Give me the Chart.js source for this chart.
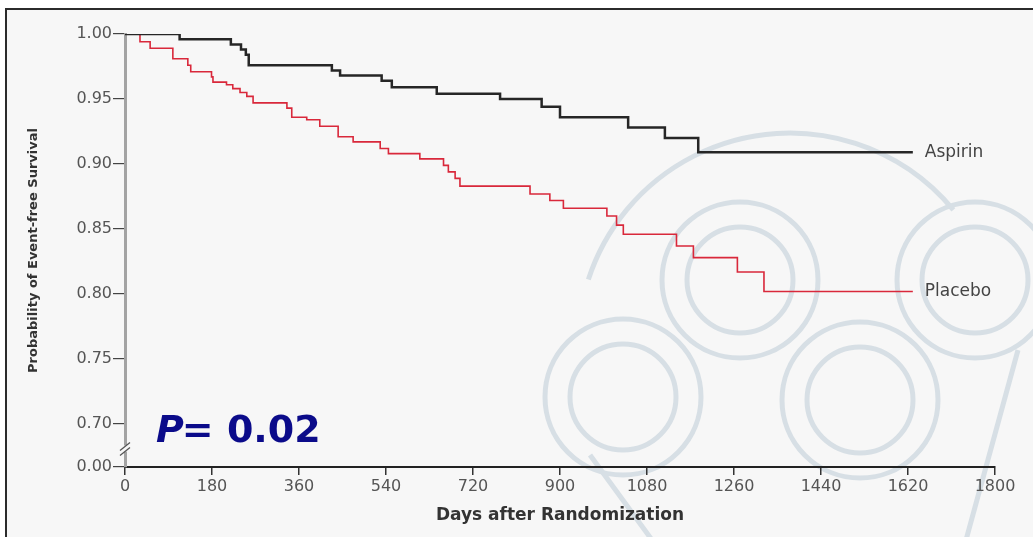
<!DOCTYPE html>
<html>
<head>
<meta charset="utf-8">
<script src="https://cdn.jsdelivr.net/npm/chart.js@4.4.1/dist/chart.umd.min.js"></script>
<style>
  html, body { margin: 0; padding: 0; background: #fff; }
  #wrap { width: 1033px; height: 537px; }
</style>
</head>
<body>
<div id="wrap"><canvas id="kmChart"></canvas></div>
<script>
/* Data */
const seriesLabels = ['Aspirin', 'Placebo'];

const aspirinDays = [0, 113, 219, 240, 250, 256, 428, 445, 531, 552, 645, 776, 862, 900, 1041, 1117, 1186, 1630];
const aspirinSurv = [1.000, 0.996, 0.992, 0.988, 0.984, 0.976, 0.972, 0.968, 0.964, 0.959, 0.954, 0.950, 0.944, 0.936, 0.928, 0.920, 0.909, 0.909];

const placeboDays = [0, 31, 52, 99, 130, 136, 179, 182, 210, 223, 238, 252, 265, 335, 345, 376, 403, 441, 472, 528,
                     545, 610, 659, 669, 683, 693, 838, 879, 907, 997, 1017, 1031, 1141, 1176, 1267, 1322, 1630];
const placeboSurv = [1.000, 0.994, 0.989, 0.981, 0.976, 0.971, 0.967, 0.963, 0.961, 0.958, 0.955, 0.952, 0.947, 0.943, 0.936, 0.934, 0.929, 0.921, 0.917, 0.912,
                     0.908, 0.904, 0.899, 0.894, 0.889, 0.883, 0.877, 0.872, 0.866, 0.860, 0.853, 0.846, 0.837, 0.828, 0.817, 0.802, 0.802];

const xTicks = [0, 180, 360, 540, 720, 900, 1080, 1260, 1440, 1620, 1800];
const yTicks = [0.70, 0.75, 0.80, 0.85, 0.90, 0.95, 1.00];
const yBreak = 0.667;   // bottom of the broken axis, shown as 0.00
const pValueLabel = ['P', '= 0.02'];

const tickFont = { family: '"DejaVu Sans", sans-serif', size: 16 };

function toPoints(days, surv) {
    return days.map((d, i) => ({ x: d, y: surv[i] }));
}

/* Plugins */

// grey panel with a dark frame on top and left
const panel = {
    id: 'panel',
    beforeDraw(chart) {
        const ctx = chart.ctx;
        ctx.save();
        ctx.fillStyle = '#ffffff';
        ctx.fillRect(0, 0, chart.width, chart.height);
        ctx.fillStyle = '#f7f7f7';
        ctx.fillRect(6, 9, chart.width - 6, chart.height - 9);
        ctx.strokeStyle = '#2b2b2b';
        ctx.lineWidth = 2;
        ctx.beginPath();
        ctx.moveTo(6, chart.height);
        ctx.lineTo(6, 9);
        ctx.lineTo(chart.width, 9);
        ctx.stroke();
        ctx.restore();
    }
};

// faint logo in the background, under the axes
const watermark = {
    id: 'watermark',
    beforeDraw(chart) {
        const ctx = chart.ctx;
        ctx.save();
        ctx.strokeStyle = '#d7dfe5';
        ctx.lineWidth = 5;
        ctx.beginPath();
        ctx.arc(790, 345, 212, Math.PI * 1.1, Math.PI * 1.78);
        ctx.stroke();
        const rings = [[740, 280], [975, 280], [623, 397], [860, 400]];
        rings.forEach(([cx, cy]) => {
            ctx.beginPath();
            ctx.arc(cx, cy, 78, 0, Math.PI * 2);
            ctx.stroke();
            ctx.beginPath();
            ctx.arc(cx, cy, 53, 0, Math.PI * 2);
            ctx.stroke();
        });
        ctx.beginPath();
        ctx.moveTo(590, 455);
        ctx.lineTo(652, 540);
        ctx.moveTo(1018, 350);
        ctx.lineTo(966, 540);
        ctx.stroke();
        ctx.restore();
    }
};

// series names at the end of each curve, and the P value
const labels = {
    id: 'labels',
    afterDatasetsDraw(chart) {
        const ctx = chart.ctx;
        ctx.save();
        ctx.font = '17px "DejaVu Sans", sans-serif';
        ctx.fillStyle = '#444';
        ctx.textBaseline = 'middle';
        chart.data.datasets.forEach((ds, i) => {
            const pts = chart.getDatasetMeta(i).data;
            const last = pts[pts.length - 1];
            ctx.fillText(ds.label, last.x + 12, last.y);
        });

        const x = chart.scales.x.getPixelForValue(0) + 31;
        const y = chart.scales.y.getPixelForValue(0.70) + 18;
        ctx.fillStyle = '#0b0b8a';
        ctx.textBaseline = 'alphabetic';
        ctx.font = 'italic bold 38px "DejaVu Sans", sans-serif';
        ctx.fillText(pValueLabel[0], x, y);
        const w = ctx.measureText(pValueLabel[0]).width;
        ctx.font = 'bold 38px "DejaVu Sans", sans-serif';
        ctx.fillText(pValueLabel[1], x + w - 2, y);
        ctx.restore();
    }
};

// "//" break marks on the y axis
const axisBreak = {
    id: 'axisBreak',
    afterDraw(chart) {
        const ctx = chart.ctx;
        const x = chart.scales.x.getPixelForValue(0);
        const y = (chart.scales.y.getPixelForValue(0.70) + chart.scales.y.getPixelForValue(yBreak)) / 2 + 3;
        ctx.save();
        ctx.fillStyle = '#f7f7f7';
        ctx.fillRect(x - 3, y - 3, 6, 6);
        ctx.strokeStyle = '#555';
        ctx.lineWidth = 1.3;
        ctx.beginPath();
        ctx.moveTo(x - 5, y + 2);
        ctx.lineTo(x + 5, y - 6);
        ctx.moveTo(x - 5, y + 7);
        ctx.lineTo(x + 5, y - 1);
        ctx.stroke();
        ctx.restore();
    }
};

/* Create chart */

const km_chart = new Chart('kmChart', {
    type: 'line',
    data: {
        datasets: [
            {
                label: seriesLabels[0],
                data: toPoints(aspirinDays, aspirinSurv),
                borderColor: '#262626',
                borderWidth: 2.5,
                stepped: true,
                pointRadius: 0
            },
            {
                label: seriesLabels[1],
                data: toPoints(placeboDays, placeboSurv),
                borderColor: '#d9283b',
                borderWidth: 1.6,
                stepped: true,
                pointRadius: 0
            }
        ]
    },
    options: {
        responsive: true,
        maintainAspectRatio: false,
        animation: false,
        layout: { padding: { top: 34, right: 38, left: 0, bottom: 0 } },
        plugins: {
            legend: { display: false },
            tooltip: { enabled: false }
        },
        scales: {
            x: {
                type: 'linear',
                min: 0,
                max: 1800,
                afterBuildTicks: s => { s.ticks = xTicks.map(v => ({ value: v })); },
                afterFit: s => { s.height = 70; },
                border: { display: true, color: '#222', width: 2 },
                grid: { drawOnChartArea: false, tickLength: 8, color: '#333', lineWidth: 1.5 },
                ticks: {
                    padding: 2,
                    color: '#555',
                    font: tickFont,
                    maxRotation: 0,
                    autoSkip: false,
                    callback: v => String(v)
                },
                title: {
                    display: true,
                    text: 'Days after Randomization',
                    color: '#333',
                    font: { family: '"DejaVu Sans", sans-serif', size: 17, weight: 'bold' },
                    padding: { top: 0, bottom: 11 }
                }
            },
            y: {
                type: 'linear',
                min: yBreak,
                max: 1.0,
                afterBuildTicks: s => { s.ticks = [yBreak, ...yTicks].map(v => ({ value: v })); },
                afterFit: s => { s.width = 125; },
                border: { display: true, color: '#a3a3a3', width: 3 },
                grid: { drawOnChartArea: false, tickLength: 12, color: '#444', lineWidth: 1.2 },
                ticks: {
                    padding: 1,
                    color: '#555',
                    font: tickFont,
                    callback: v => (v < 0.69 ? '0.00' : v.toFixed(2))
                },
                title: {
                    display: true,
                    text: 'Probability of Event-free Survival',
                    color: '#333',
                    font: { family: '"DejaVu Sans", sans-serif', size: 13, weight: 'bold' },
                    padding: { top: 26, bottom: 0 }
                }
            }
        }
    },
    plugins: [panel, watermark, labels, axisBreak]
});
</script>
</body>
</html>
